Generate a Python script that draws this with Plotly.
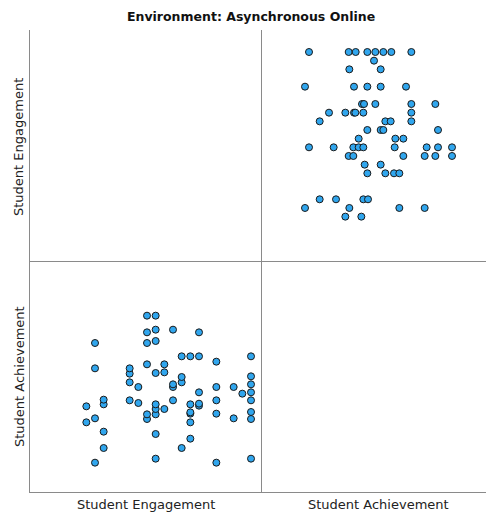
import plotly.graph_objects as go

# Student engagement (mean Likert score) and achievement (%) for each student
engagement = [
    5.0, 5.0, 5.0, 5.0, 5.0, 5.0, 5.0, 5.0,
    4.9,
    4.8, 4.8,
    4.6, 4.6, 4.6, 4.6, 4.6,
    4.4, 4.4, 4.4, 4.4, 4.4,
    4.3, 4.3, 4.3, 4.3, 4.3, 4.3,
    4.2, 4.2, 4.2, 4.2,
    4.1, 4.1, 4.1, 4.1,
    4.0, 4.0, 4.0,
    3.9, 3.9, 3.9, 3.9, 3.9, 3.9, 3.9, 3.9, 3.9,
    3.8, 3.8, 3.8, 3.8, 3.8, 3.8,
    3.7, 3.7,
    3.6, 3.6, 3.6, 3.6,
    3.3, 3.3, 3.3, 3.3,
    3.2, 3.2, 3.2, 3.2,
    3.1, 3.1,
]
achievement = [
    54.1, 66.0, 68.1, 71.6, 74.0, 76.4, 78.8, 84.8,
    73.6,
    66.2, 75.6,
    52.9, 67.6, 71.6, 75.6, 83.2,
    70.0, 70.6, 74.0, 84.8, 92.0,
    60.1, 65.0, 67.6, 68.0, 70.4, 84.8,
    57.3, 77.0, 78.6, 84.8,
    71.6, 75.6, 76.4, 92.8,
    69.0, 80.0, 82.4,
    54.1, 61.5, 67.4, 69.0, 70.4, 79.8, 89.4, 92.8, 97.0,
    66.0, 67.4, 82.4, 88.8, 92.0, 97.0,
    70.8, 75.6,
    71.6, 77.0, 79.6, 81.2,
    57.3, 62.2, 70.4, 71.8,
    52.9, 66.2, 81.2, 88.8,
    65.0, 69.8,
]

title_text = "Environment: Asynchronous Online"
var_names = ["Student Engagement", "Student Achievement"]

marker = dict(size=7, color="#30a6ee", line=dict(color="#1a1a1a", width=1))
font_family = "DejaVu Sans"
axis_color = "#8a8a8a"

fig = go.Figure()

# Upper-right panel: achievement (x) vs engagement (y)
fig.add_trace(go.Scatter(x=achievement, y=engagement, mode="markers",
                         marker=marker, xaxis="x2", yaxis="y2",
                         hoverinfo="skip"))
# Lower-left panel: engagement (x) vs achievement (y)
fig.add_trace(go.Scatter(x=engagement, y=achievement, mode="markers",
                         marker=marker, xaxis="x", yaxis="y",
                         hoverinfo="skip"))
# Diagonal panels stay empty; an invisible trace keeps their frames drawn
for xa, ya in (("x3", "y3"), ("x4", "y4")):
    fig.add_trace(go.Scatter(x=[None], y=[None], mode="markers",
                             xaxis=xa, yaxis=ya, hoverinfo="skip"))

split_x = 0.5088
base_axis = dict(showline=True, linecolor=axis_color, linewidth=1,
                 showgrid=False, zeroline=False, ticks="",
                 showticklabels=False, mirror=False, fixedrange=True)

eng_range_y = [2.588, 5.254]
eng_range_x = [2.45, 5.127]
ach_range_x = [40.0, 107.2]
ach_range_y = [44.1, 113.4]

fig.update_layout(
    width=486, height=512,
    margin=dict(l=30, r=0, t=30, b=20),
    paper_bgcolor="white", plot_bgcolor="white",
    showlegend=False,
    # lower-left
    xaxis=dict(base_axis, domain=[0, split_x], range=eng_range_x, anchor="y"),
    yaxis=dict(base_axis, domain=[0, 0.5], range=ach_range_y, anchor="x"),
    # upper-right
    xaxis2=dict(base_axis, domain=[split_x, 1], range=ach_range_x, anchor="y2"),
    yaxis2=dict(base_axis, domain=[0.5, 1], range=eng_range_y, anchor="x2"),
    # empty diagonal panels
    xaxis3=dict(base_axis, domain=[0, split_x], range=[0, 1], anchor="y3"),
    yaxis3=dict(base_axis, domain=[0.5, 1], range=[0, 1], anchor="x3"),
    xaxis4=dict(base_axis, domain=[split_x, 1], range=[0, 1], anchor="y4"),
    yaxis4=dict(base_axis, domain=[0, 0.5], range=[0, 1], anchor="x4"),
)

annotations = [
    dict(text="<b>" + title_text + "</b>", x=0.4846, y=1.0303,
         font=dict(size=12.5, color="#111111", family=font_family)),
    dict(text=var_names[0], x=0.2544, y=-0.0281,
         font=dict(size=13, color="#222222", family=font_family)),
    dict(text=var_names[1], x=0.7632, y=-0.0281,
         font=dict(size=13, color="#222222", family=font_family)),
    dict(text=var_names[0], x=-0.0241, y=0.7468, textangle=-90,
         font=dict(size=13, color="#222222", family=font_family)),
    dict(text=var_names[1], x=-0.0241, y=0.2489, textangle=-90,
         font=dict(size=13, color="#222222", family=font_family)),
]
for a in annotations:
    a.update(xref="paper", yref="paper", showarrow=False,
             xanchor="center", yanchor="middle")
fig.update_layout(annotations=annotations)

fig.write_html("out.html")
